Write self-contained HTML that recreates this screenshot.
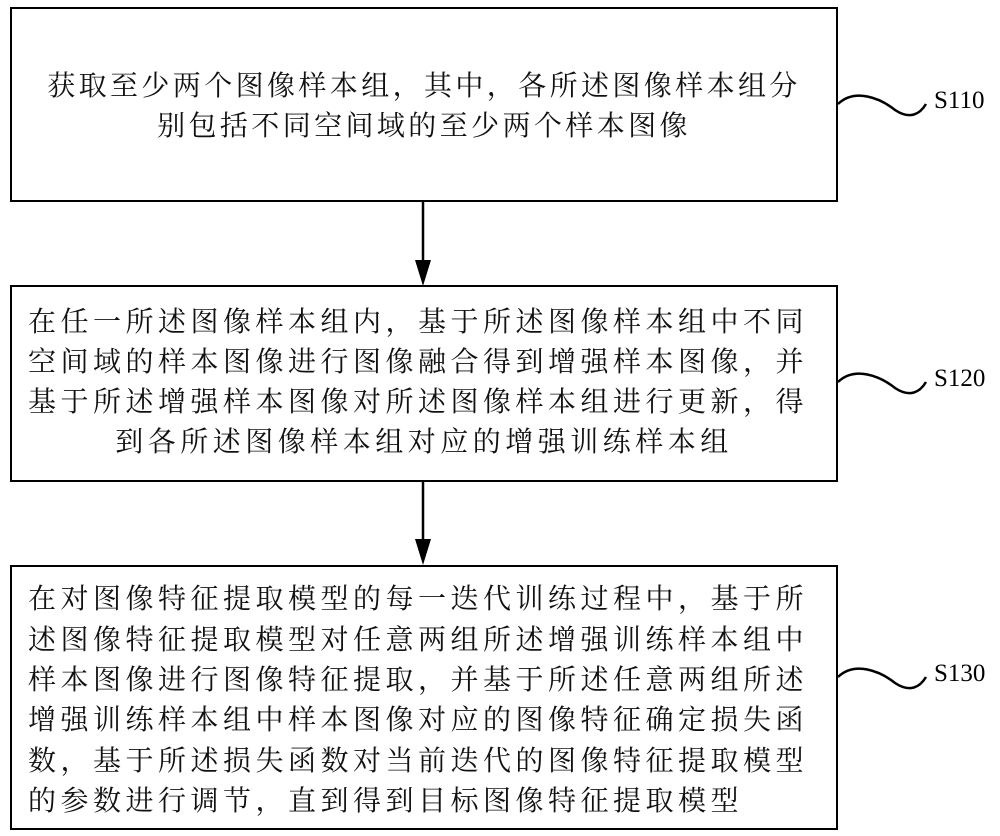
<!DOCTYPE html>
<html><head><meta charset="utf-8"><style>
body{margin:0;background:#fff;width:1000px;height:836px;position:relative;overflow:hidden;font-family:"Liberation Serif","Noto Serif CJK SC",serif;}
.box{position:absolute;left:10px;width:824px;border:2px solid #000;}
.l{position:absolute;white-space:nowrap;font-size:28px;letter-spacing:4.5px;line-height:40px;color:#111;}
.c{left:0;width:824px;text-align:center;}
.s{position:absolute;font-size:25px;font-family:"Liberation Serif",serif;}
</style></head><body>
<div class="box" style="top:7px;height:191px">
<div class="l c" style="top:58px;letter-spacing:3.4px">获取至少两个图像样本组，其中，各所述图像样本组分</div>
<div class="l c" style="top:98px;letter-spacing:3.4px">别包括不同空间域的至少两个样本图像</div>
</div>
<div class="box" style="top:285px;height:193px">
<div class="l" style="left:16px;top:16px">在任一所述图像样本组内，基于所述图像样本组中不同</div>
<div class="l" style="left:16px;top:56px">空间域的样本图像进行图像融合得到增强样本图像，并</div>
<div class="l" style="left:16px;top:96px">基于所述增强样本图像对所述图像样本组进行更新，得</div>
<div class="l c" style="top:136px">到各所述图像样本组对应的增强训练样本组</div>
</div>
<div class="box" style="top:565px;height:261px">
<div class="l" style="left:16px;top:13px">在对图像特征提取模型的每一迭代训练过程中，基于所</div>
<div class="l" style="left:16px;top:54px">述图像特征提取模型对任意两组所述增强训练样本组中</div>
<div class="l" style="left:16px;top:94px">样本图像进行图像特征提取，并基于所述任意两组所述</div>
<div class="l" style="left:16px;top:134px">增强训练样本组中样本图像对应的图像特征确定损失函</div>
<div class="l" style="left:16px;top:175px">数，基于所述损失函数对当前迭代的图像特征提取模型</div>
<div class="l" style="left:16px;top:215px">的参数进行调节，直到得到目标图像特征提取模型</div>
</div>
<svg width="1000" height="836" style="position:absolute;left:0;top:0" fill="none" stroke="#000" stroke-width="2.5">
<line x1="423" y1="200" x2="423" y2="262"/>
<polygon points="415,260 431,260 423,286" fill="#000" stroke="none"/>
<line x1="423" y1="480" x2="423" y2="541"/>
<polygon points="415,539 431,539 423,565" fill="#000" stroke="none"/>
<path d="M838,104 C855,88 880,98 895,110 C910,120 920,114 926,104"/>
<path d="M838,382 C855,366 880,376 895,388 C910,398 920,392 926,382"/>
<path d="M838,677 C855,661 880,671 895,683 C910,693 920,687 926,677"/>
</svg>
<div class="s" style="left:934px;top:87px">S110</div>
<div class="s" style="left:934px;top:365px">S120</div>
<div class="s" style="left:934px;top:660px">S130</div>
</body></html>
